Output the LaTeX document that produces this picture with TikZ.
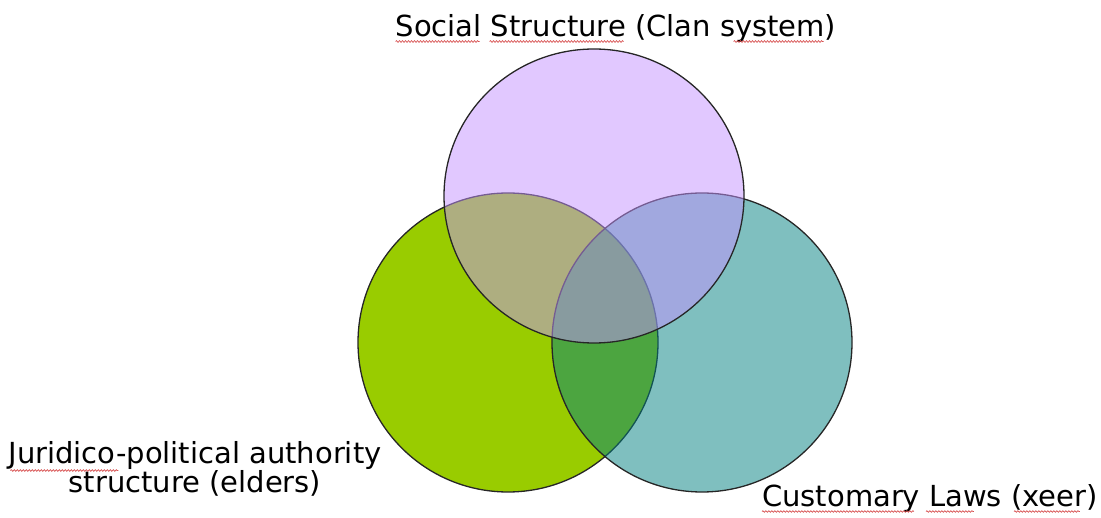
\documentclass[tikz,border=0pt]{standalone}
\usepackage{fontspec}
\setmainfont{DejaVu Sans}
\usetikzlibrary{shapes.geometric,decorations.pathmorphing}
\definecolor{cgreen}{RGB}{153,204,0}
\definecolor{cteal}{RGB}{0,128,128}
\definecolor{clav}{RGB}{196,146,255}
\definecolor{spell}{RGB}{215,80,80}
\newcommand\lblfont{\fontsize{29}{27}\selectfont}
\newcommand\spellmark[4]{%
  \draw[spellwave] ([xshift=#2, yshift=#4]#1.base west) -- ([xshift=#3, yshift=#4]#1.base west);}
\begin{document}
\begin{tikzpicture}[x=1pt,y=-1pt,
  venn/.style={ellipse, draw=black!85, line width=1.3pt, inner sep=0pt, minimum width=300pt},
  lbl/.style={font=\lblfont, inner sep=0pt, anchor=base, align=center},
  spellwave/.style={draw=spell, line width=0.7pt, decorate, decoration={snake, amplitude=0.8pt, segment length=3pt}}]
\useasboundingbox (0,0) rectangle (1101,518);
\node[venn, fill=cgreen, minimum height=299pt] (jur) at (508,342.5) {};
\node[venn, fill=cteal, fill opacity=0.5, minimum height=299pt] (cus) at (702,342.5) {};
\node[venn, fill=clav, fill opacity=0.5, minimum height=294pt] (soc) at (594,196) {};
\node[lbl] (tsoc) at (616,37) {Social Structure (Clan system)};
\node[lbl] (tjur) at (195,493) {Juridico-political authority\\structure (elders)};
\node[lbl] (tcus) at (930,507) {Customary Laws (xeer)};
\spellmark{tsoc}{0pt}{84pt}{-4.5pt}
\spellmark{tsoc}{94pt}{228pt}{-4.5pt}
\spellmark{tsoc}{338pt}{428pt}{-4.5pt}
\spellmark{tjur}{2pt}{110pt}{22.5pt}
\spellmark{tcus}{0pt}{152pt}{-4.5pt}
\spellmark{tcus}{164pt}{212pt}{-4.5pt}
\spellmark{tcus}{252pt}{318pt}{-4.5pt}
\end{tikzpicture}
\end{document}
